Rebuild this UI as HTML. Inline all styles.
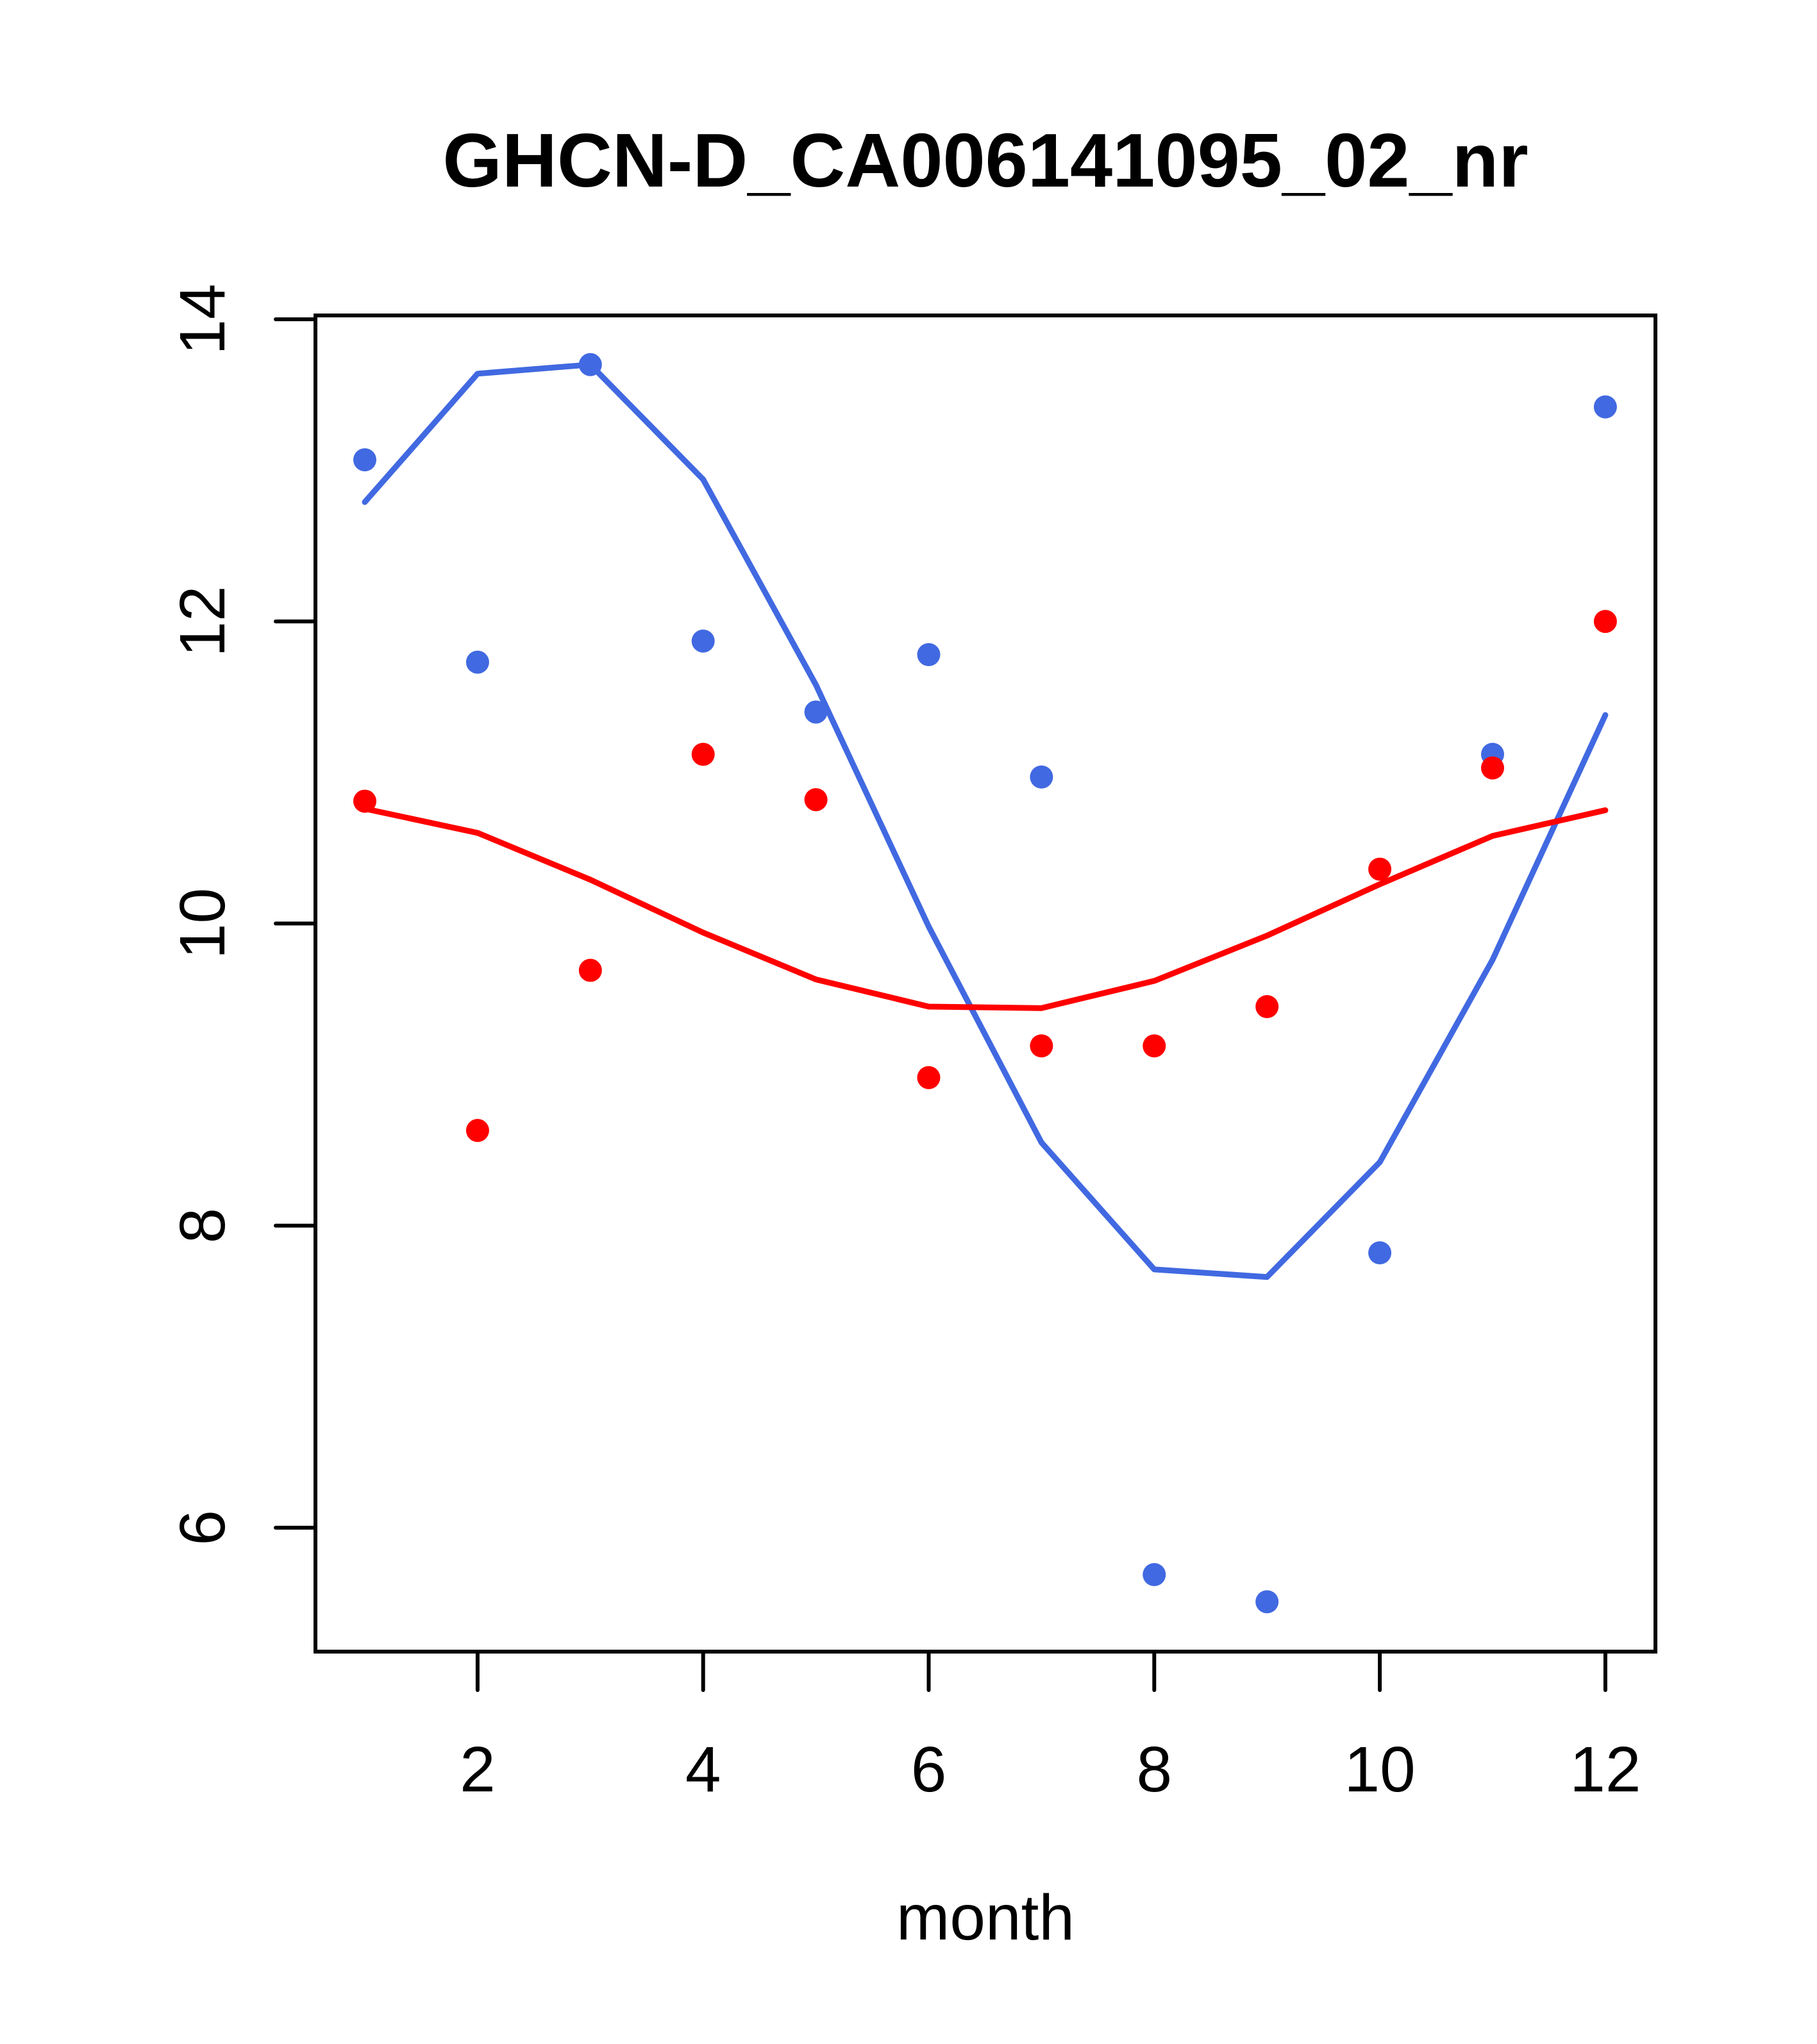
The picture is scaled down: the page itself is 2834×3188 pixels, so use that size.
<!DOCTYPE html>
<html><head><meta charset="utf-8"><style>
html,body{margin:0;padding:0;background:#fff;}
svg{display:block;font-family:"Liberation Sans",Arial,sans-serif;}
</style></head><body>
<svg id="chart" width="2834" height="3188" viewBox="0 0 2834 3188" xmlns="http://www.w3.org/2000/svg">
<rect width="2834" height="3188" fill="#fff"/>
<text x="1537" y="291" font-size="119" font-weight="bold" text-anchor="middle">GHCN-D_CA006141095_02_nr</text>
<g id="plot"></g>
</svg>
<script>
const months=[1,2,3,4,5,6,7,8,9,10,11,12];
const bluePoints=[13.07,11.73,13.70,11.87,11.40,11.78,10.97,5.69,5.51,7.82,11.12,13.42];
const blueLine=[12.79,13.64,13.70,12.94,11.58,9.98,8.55,7.71,7.66,8.42,9.76,11.38];
const redPoints=[10.81,8.63,9.69,11.12,10.82,8.98,9.19,9.19,9.45,10.36,11.03,12.00];
const redLine=[10.76,10.60,10.29,9.94,9.63,9.45,9.44,9.62,9.92,10.26,10.58,10.75];
const xTicks=[2,4,6,8,10,12];
const yTicks=[6,8,10,12,14];

const NS="http://www.w3.org/2000/svg";
const g=document.getElementById('plot');
const X=v=>569+(v-1)*175.9;
const Y=v=>498+(14-v)*235.6;
function mk(tag,attrs){const e=document.createElementNS(NS,tag);for(const k in attrs)e.setAttribute(k,attrs[k]);g.appendChild(e);return e;}

const box=mk('rect',{x:492,y:492,width:2090,height:2084,fill:'none',stroke:'#000','stroke-width':6});



xTicks.forEach(t=>{
  const l=mk('line',{x1:X(t),x2:X(t),y1:2576,y2:2636,stroke:'#000','stroke-width':6,'stroke-linecap':'round'});
  
  
  const tx=mk('text',{x:X(t),y:2794,'font-size':100,'text-anchor':'middle'});
  tx.textContent=t;
  
  
});
yTicks.forEach(t=>{
  const l=mk('line',{x1:430,x2:492,y1:Y(t),y2:Y(t),stroke:'#000','stroke-width':6,'stroke-linecap':'round'});
  
  
  const tx=mk('text',{x:0,y:0,'font-size':100,'text-anchor':'middle',transform:`translate(350,${Y(t)}) rotate(-90)`});
  tx.textContent=t;
  
  
});
const xl=mk('text',{x:1537,y:3025,'font-size':100,'text-anchor':'middle'});
xl.textContent='month';



function line(vals,color,name){
  const p=mk('polyline',{points:months.map((m,i)=>X(m)+','+Y(vals[i])).join(' '),fill:'none',stroke:color,'stroke-width':9,'stroke-linejoin':'round','stroke-linecap':'round'});
  
  
}
function pts(vals,color,name){
  months.forEach((m,i)=>{
    const c=mk('circle',{cx:X(m),cy:Y(vals[i]),r:18,fill:color});
    
    
  });
}
line(blueLine,'#4169E1','blue-line');
line(redLine,'#FF0000','red-line');
pts(bluePoints,'#4169E1','blue-point');
pts(redPoints,'#FF0000','red-point');
</script>
</body></html>
